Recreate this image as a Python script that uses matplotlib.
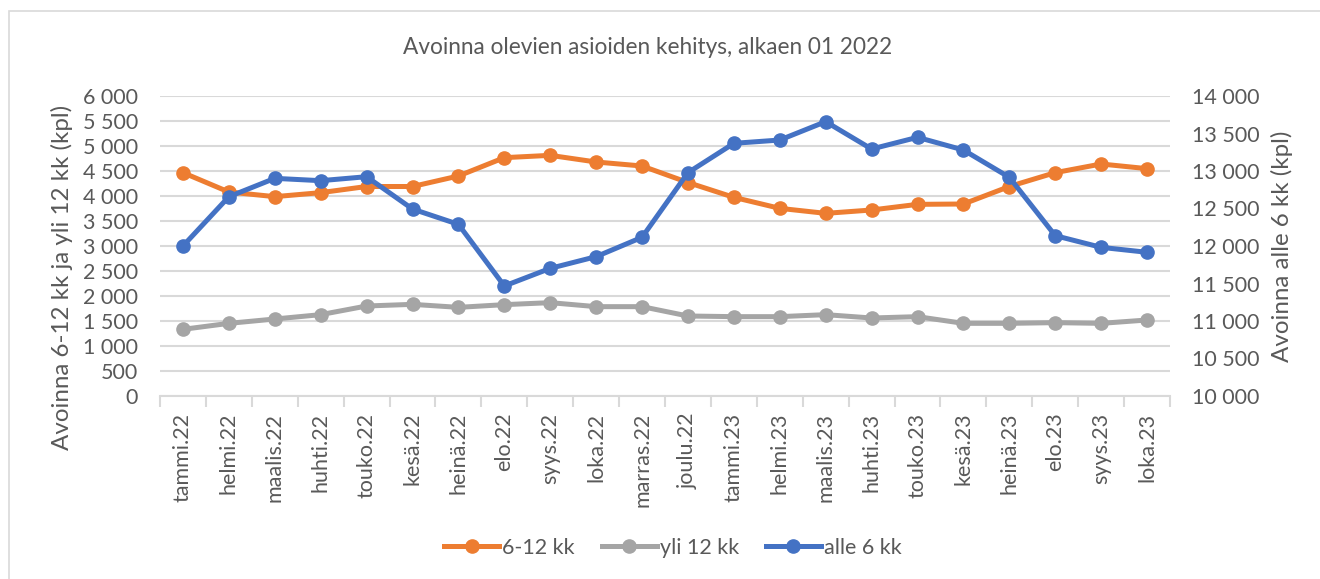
import matplotlib
matplotlib.use("Agg")
import matplotlib.pyplot as plt
from matplotlib.ticker import FuncFormatter, FixedLocator
from matplotlib.patches import Rectangle
from matplotlib.lines import Line2D

plt.rcParams['font.family'] = ['Lato', 'DejaVu Sans']

categories = ["tammi.22", "helmi.22", "maalis.22", "huhti.22", "touko.22", "kesä.22",
              "heinä.22", "elo.22", "syys.22", "loka.22", "marras.22", "joulu.22",
              "tammi.23", "helmi.23", "maalis.23", "huhti.23", "touko.23", "kesä.23",
              "heinä.23", "elo.23", "syys.23", "loka.23"]

kk_6_12 = [4467, 4080, 3987, 4067, 4190, 4190, 4400, 4767, 4813, 4680, 4600, 4270,
           3973, 3753, 3653, 3720, 3833, 3840, 4190, 4467, 4640, 4547]
yli_12 = [1333, 1453, 1540, 1627, 1800, 1833, 1773, 1827, 1867, 1787, 1787, 1600,
          1587, 1587, 1627, 1560, 1587, 1453, 1453, 1467, 1453, 1520]
alle_6 = [12000, 12657, 12902, 12871, 12924, 12493, 12289, 11467, 11702, 11858, 12116,
          12978, 13369, 13413, 13658, 13293, 13449, 13280, 12916, 12138, 11982, 11916]

title = "Avoinna olevien asioiden kehitys, alkaen 01 2022"
left_label = "Avoinna 6-12 kk ja yli 12 kk (kpl)"
right_label = "Avoinna alle 6 kk (kpl)"
names = ["6-12 kk", "yli 12 kk", "alle 6 kk"]

ORANGE = "#ED7D31"
GRAY = "#A5A5A5"
BLUE = "#4472C4"
TXT = "#595959"
GRID = "#D9D9D9"

W, H = 1320, 579
fig = plt.figure(figsize=(W / 100, H / 100), dpi=100)

# chart border
fig.patches.append(Rectangle((9 / W, -0.1), 1.2, 1 - 11 / H + 0.1, transform=fig.transFigure,
                             fill=False, edgecolor=GRID, linewidth=1.2))

ax = fig.add_axes([160 / W, (H - 396) / H, 1010 / W, 300 / H])
ax2 = ax.twinx()

x = list(range(len(categories)))
lw = 3.6
ms = 9.5
ax.plot(x, kk_6_12, color=ORANGE, lw=lw, marker='o', ms=ms, zorder=3)
ax.plot(x, yli_12, color=GRAY, lw=lw, marker='o', ms=ms, zorder=3)
ax2.plot(x, alle_6, color=BLUE, lw=lw, marker='o', ms=ms, zorder=3)

ax.set_xlim(-0.5, len(categories) - 0.5)
ax.set_ylim(0, 6000)
ax2.set_ylim(10000, 14000)

fmt = FuncFormatter(lambda v, p: f"{int(v):,}".replace(",", " "))
ax.yaxis.set_major_locator(FixedLocator(range(0, 6001, 500)))
ax2.yaxis.set_major_locator(FixedLocator(range(10000, 14001, 500)))
ax.yaxis.set_major_formatter(fmt)
ax2.yaxis.set_major_formatter(fmt)

ax.grid(axis='y', color=GRID, linewidth=1.5, zorder=0)
ax.set_axisbelow(True)

for a in (ax, ax2):
    for s in ('top', 'left', 'right'):
        a.spines[s].set_visible(False)
    a.spines['bottom'].set_color(GRID)
    a.spines['bottom'].set_linewidth(1.5)
ax2.spines['bottom'].set_visible(False)

FS = 15.5
ax.tick_params(axis='y', length=0, labelsize=FS, labelcolor=TXT, pad=16)
ax2.tick_params(axis='y', length=0, labelsize=FS, labelcolor=TXT, pad=16)

ax.set_xticks(x)
ax.set_xticklabels(categories, rotation=90, fontsize=FS, color=TXT)
ax.set_xticks([i - 0.5 for i in range(len(categories) + 1)], minor=True)
ax.tick_params(axis='x', which='major', length=0, pad=12)
ax.tick_params(axis='x', which='minor', length=8, color=GRID, width=1.5)

fig.text(62 / W, 1 - 277 / H, left_label, rotation=90, ha='center', va='center',
         fontsize=17.4, color=TXT)
ax2.set_ylabel(right_label, fontsize=17.4, color=TXT, labelpad=8)

fig.text(648 / W, 1 - 47 / H, title, ha='center', va='center', fontsize=16.3, color=TXT)

handles = [Line2D([0], [0], color=c, lw=lw, marker='o', ms=ms) for c in (ORANGE, GRAY, BLUE)]
fig.legend(handles, names, loc='center', bbox_to_anchor=(673 / W, 1 - 548 / H), ncol=3,
           frameon=False, fontsize=FS, labelcolor=TXT, handlelength=2.55,
           handletextpad=0.15, columnspacing=1.25)

fig.savefig("out.png", dpi=100)
